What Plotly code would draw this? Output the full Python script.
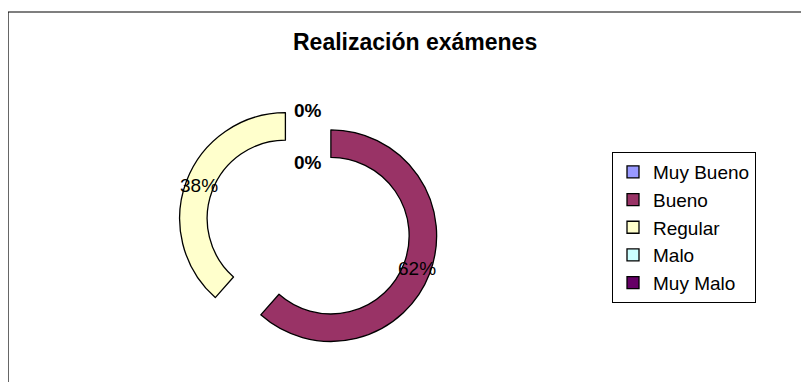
import numpy as np
import plotly.graph_objects as go

# Realización exámenes — number of students per grade
categorias = ["Muy Bueno", "Bueno", "Regular", "Malo", "Muy Malo"]
alumnos = [0, 8, 5, 0, 0]
colores = ["#9999FF", "#993366", "#FFFFCC", "#CCFFFF", "#660066"]

FONT = "Arial, Liberation Sans, sans-serif"
W, H = 809, 382
PULL, HOLE = 0.23, 0.74
DOM_X, DOM_Y = [0.21, 0.532], [0.086, 0.767]

total = sum(alumnos)
porcentajes = [v / total for v in alumnos]

fig = go.Figure(go.Pie(
    labels=categorias, values=alumnos, sort=False, direction="clockwise", rotation=0,
    hole=HOLE, pull=[PULL] * len(alumnos), textinfo="none",
    marker=dict(colors=colores, line=dict(color="black", width=1.3)),
    domain=dict(x=DOM_X, y=DOM_Y),
    hoverinfo="label+value+percent",
))

# data labels, Excel-style at the middle of each (exploded) ring segment
cx = (DOM_X[0] + DOM_X[1]) / 2 * W
cy = (DOM_Y[0] + DOM_Y[1]) / 2 * H
r = min((DOM_X[1] - DOM_X[0]) * W, (DOM_Y[1] - DOM_Y[0]) * H) / 2 / (1 + PULL)
rm = r * (1 + HOLE) / 2
d = r * PULL
acum = np.cumsum([0] + porcentajes)
ceros = 0
for p, a0, a1 in zip(porcentajes, acum[:-1], acum[1:]):
    fondo = None
    texto = f"{p:.0%}"
    if p > 0:
        th = (a0 + a1) * np.pi
        rr = rm + d
    else:
        if ceros >= 2:
            continue
        th = 0.0
        texto = f"<b>{texto}</b>"
        # first zero label sits on the (empty) slice edge, hide that edge behind it
        rr, fondo = (rm + d, "white") if ceros == 0 else (rm - d - 3, None)
        ceros += 1
    fig.add_annotation(x=(cx + rr * np.sin(th)) / W, y=(cy + rr * np.cos(th)) / H,
                       xref="paper", yref="paper", xanchor="center", yanchor="middle",
                       text=texto, showarrow=False, bgcolor=fondo, borderpad=5,
                       font=dict(family=FONT, size=19, color="black"))

fig.add_shape(type="rect", xref="paper", yref="paper", x0=0.0, x1=1.02, y0=-0.02, y1=0.9895,
              line=dict(color="black", width=1.2), fillcolor="rgba(0,0,0,0)")

fig.add_annotation(x=0.503, y=0.911, xref="paper", yref="paper", xanchor="center", yanchor="middle",
                   showarrow=False, text="<b>Realización exámenes</b>",
                   font=dict(family=FONT, size=23, color="black"))

fig.update_layout(
    width=W, height=H, margin=dict(t=0, b=0, l=0, r=0),
    paper_bgcolor="white", plot_bgcolor="white",
    legend=dict(x=0.7466, y=0.623, xanchor="left", yanchor="top", bordercolor="black", borderwidth=1,
                bgcolor="white", font=dict(family=FONT, size=19, color="black"),
                traceorder="normal"),
)

fig.write_html("out.html")
